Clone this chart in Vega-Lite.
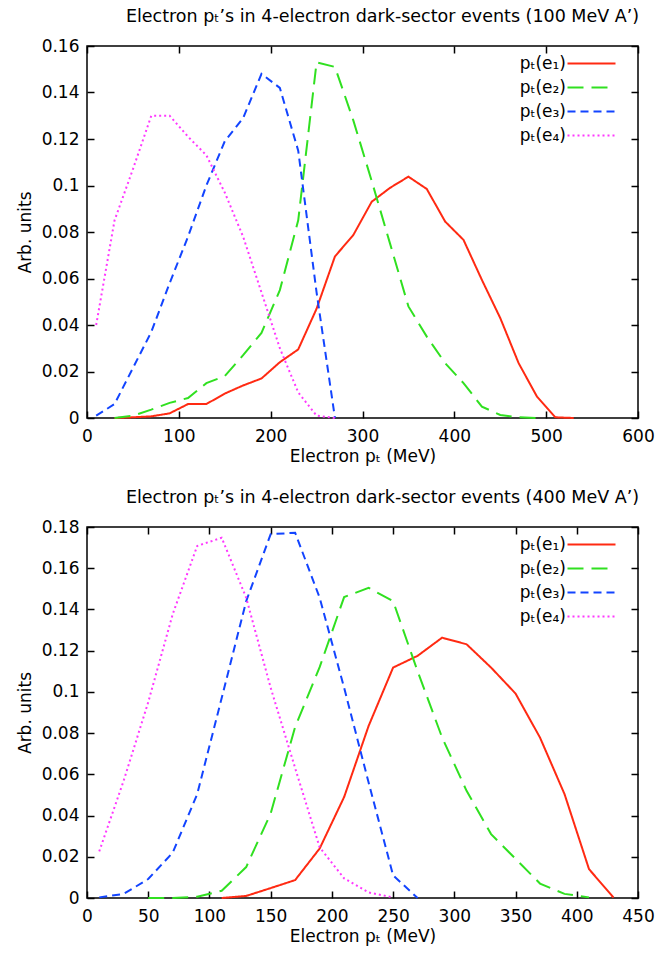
{
  "$schema": "https://vega.github.io/schema/vega-lite/v6.json",
  "background": "white",
  "padding": {"left": 15, "top": 6, "right": 10, "bottom": 5},
  "spacing": 22,
  "datasets": {
    "top": [
      {"s": "pₜ(e₁)", "x": 30, "y": 0}, {"s": "pₜ(e₁)", "x": 50, "y": 0.0003}, {"s": "pₜ(e₁)", "x": 70, "y": 0.0007}, {"s": "pₜ(e₁)", "x": 90, "y": 0.002}, {"s": "pₜ(e₁)", "x": 110, "y": 0.006}, {"s": "pₜ(e₁)", "x": 130, "y": 0.006}, {"s": "pₜ(e₁)", "x": 150, "y": 0.0105}, {"s": "pₜ(e₁)", "x": 170, "y": 0.014}, {"s": "pₜ(e₁)", "x": 190, "y": 0.017}, {"s": "pₜ(e₁)", "x": 210, "y": 0.024}, {"s": "pₜ(e₁)", "x": 230, "y": 0.0295}, {"s": "pₜ(e₁)", "x": 250, "y": 0.047}, {"s": "pₜ(e₁)", "x": 270, "y": 0.0695}, {"s": "pₜ(e₁)", "x": 290, "y": 0.0787}, {"s": "pₜ(e₁)", "x": 310, "y": 0.093}, {"s": "pₜ(e₁)", "x": 330, "y": 0.099}, {"s": "pₜ(e₁)", "x": 350, "y": 0.1038}, {"s": "pₜ(e₁)", "x": 370, "y": 0.0985}, {"s": "pₜ(e₁)", "x": 390, "y": 0.0845}, {"s": "pₜ(e₁)", "x": 410, "y": 0.0766}, {"s": "pₜ(e₁)", "x": 430, "y": 0.0594}, {"s": "pₜ(e₁)", "x": 450, "y": 0.043}, {"s": "pₜ(e₁)", "x": 470, "y": 0.0236}, {"s": "pₜ(e₁)", "x": 490, "y": 0.0092}, {"s": "pₜ(e₁)", "x": 510, "y": 0.0003}, {"s": "pₜ(e₁)", "x": 530, "y": 0},
      {"s": "pₜ(e₂)", "x": 30, "y": 0}, {"s": "pₜ(e₂)", "x": 50, "y": 0.001}, {"s": "pₜ(e₂)", "x": 70, "y": 0.0036}, {"s": "pₜ(e₂)", "x": 90, "y": 0.0065}, {"s": "pₜ(e₂)", "x": 110, "y": 0.0086}, {"s": "pₜ(e₂)", "x": 130, "y": 0.015}, {"s": "pₜ(e₂)", "x": 150, "y": 0.018}, {"s": "pₜ(e₂)", "x": 170, "y": 0.027}, {"s": "pₜ(e₂)", "x": 190, "y": 0.0366}, {"s": "pₜ(e₂)", "x": 210, "y": 0.055}, {"s": "pₜ(e₂)", "x": 230, "y": 0.085}, {"s": "pₜ(e₂)", "x": 250, "y": 0.153}, {"s": "pₜ(e₂)", "x": 270, "y": 0.151}, {"s": "pₜ(e₂)", "x": 290, "y": 0.128}, {"s": "pₜ(e₂)", "x": 310, "y": 0.102}, {"s": "pₜ(e₂)", "x": 330, "y": 0.075}, {"s": "pₜ(e₂)", "x": 350, "y": 0.048}, {"s": "pₜ(e₂)", "x": 370, "y": 0.035}, {"s": "pₜ(e₂)", "x": 390, "y": 0.0236}, {"s": "pₜ(e₂)", "x": 410, "y": 0.015}, {"s": "pₜ(e₂)", "x": 430, "y": 0.0049}, {"s": "pₜ(e₂)", "x": 450, "y": 0.0013}, {"s": "pₜ(e₂)", "x": 470, "y": 0.0003}, {"s": "pₜ(e₂)", "x": 490, "y": 0},
      {"s": "pₜ(e₃)", "x": 10, "y": 0.001}, {"s": "pₜ(e₃)", "x": 30, "y": 0.006}, {"s": "pₜ(e₃)", "x": 50, "y": 0.0215}, {"s": "pₜ(e₃)", "x": 70, "y": 0.037}, {"s": "pₜ(e₃)", "x": 90, "y": 0.058}, {"s": "pₜ(e₃)", "x": 110, "y": 0.078}, {"s": "pₜ(e₃)", "x": 130, "y": 0.1}, {"s": "pₜ(e₃)", "x": 150, "y": 0.119}, {"s": "pₜ(e₃)", "x": 170, "y": 0.129}, {"s": "pₜ(e₃)", "x": 190, "y": 0.148}, {"s": "pₜ(e₃)", "x": 210, "y": 0.142}, {"s": "pₜ(e₃)", "x": 230, "y": 0.115}, {"s": "pₜ(e₃)", "x": 250, "y": 0.054}, {"s": "pₜ(e₃)", "x": 270, "y": 0},
      {"s": "pₜ(e₄)", "x": 10, "y": 0.04}, {"s": "pₜ(e₄)", "x": 30, "y": 0.085}, {"s": "pₜ(e₄)", "x": 50, "y": 0.107}, {"s": "pₜ(e₄)", "x": 70, "y": 0.13}, {"s": "pₜ(e₄)", "x": 90, "y": 0.13}, {"s": "pₜ(e₄)", "x": 110, "y": 0.121}, {"s": "pₜ(e₄)", "x": 130, "y": 0.113}, {"s": "pₜ(e₄)", "x": 150, "y": 0.097}, {"s": "pₜ(e₄)", "x": 170, "y": 0.078}, {"s": "pₜ(e₄)", "x": 190, "y": 0.054}, {"s": "pₜ(e₄)", "x": 210, "y": 0.03}, {"s": "pₜ(e₄)", "x": 230, "y": 0.011}, {"s": "pₜ(e₄)", "x": 250, "y": 0.001}, {"s": "pₜ(e₄)", "x": 270, "y": 0}
    ],
    "bottom": [
      {"s": "pₜ(e₁)", "x": 110, "y": 0}, {"s": "pₜ(e₁)", "x": 130, "y": 0.001}, {"s": "pₜ(e₁)", "x": 150, "y": 0.0048}, {"s": "pₜ(e₁)", "x": 170, "y": 0.0087}, {"s": "pₜ(e₁)", "x": 190, "y": 0.024}, {"s": "pₜ(e₁)", "x": 210, "y": 0.049}, {"s": "pₜ(e₁)", "x": 230, "y": 0.0835}, {"s": "pₜ(e₁)", "x": 250, "y": 0.1118}, {"s": "pₜ(e₁)", "x": 270, "y": 0.1175}, {"s": "pₜ(e₁)", "x": 290, "y": 0.1263}, {"s": "pₜ(e₁)", "x": 310, "y": 0.1231}, {"s": "pₜ(e₁)", "x": 330, "y": 0.1118}, {"s": "pₜ(e₁)", "x": 350, "y": 0.0992}, {"s": "pₜ(e₁)", "x": 370, "y": 0.0778}, {"s": "pₜ(e₁)", "x": 390, "y": 0.0504}, {"s": "pₜ(e₁)", "x": 410, "y": 0.014}, {"s": "pₜ(e₁)", "x": 430, "y": 0.0002},
      {"s": "pₜ(e₂)", "x": 50, "y": 0}, {"s": "pₜ(e₂)", "x": 70, "y": 0}, {"s": "pₜ(e₂)", "x": 90, "y": 0.0006}, {"s": "pₜ(e₂)", "x": 110, "y": 0.0035}, {"s": "pₜ(e₂)", "x": 130, "y": 0.015}, {"s": "pₜ(e₂)", "x": 150, "y": 0.041}, {"s": "pₜ(e₂)", "x": 170, "y": 0.083}, {"s": "pₜ(e₂)", "x": 190, "y": 0.112}, {"s": "pₜ(e₂)", "x": 210, "y": 0.146}, {"s": "pₜ(e₂)", "x": 230, "y": 0.1505}, {"s": "pₜ(e₂)", "x": 250, "y": 0.144}, {"s": "pₜ(e₂)", "x": 270, "y": 0.11}, {"s": "pₜ(e₂)", "x": 290, "y": 0.0779}, {"s": "pₜ(e₂)", "x": 310, "y": 0.052}, {"s": "pₜ(e₂)", "x": 330, "y": 0.031}, {"s": "pₜ(e₂)", "x": 350, "y": 0.019}, {"s": "pₜ(e₂)", "x": 370, "y": 0.007}, {"s": "pₜ(e₂)", "x": 390, "y": 0.002}, {"s": "pₜ(e₂)", "x": 410, "y": 0.0003},
      {"s": "pₜ(e₃)", "x": 10, "y": 0.0003}, {"s": "pₜ(e₃)", "x": 30, "y": 0.002}, {"s": "pₜ(e₃)", "x": 50, "y": 0.0092}, {"s": "pₜ(e₃)", "x": 70, "y": 0.022}, {"s": "pₜ(e₃)", "x": 90, "y": 0.0504}, {"s": "pₜ(e₃)", "x": 110, "y": 0.097}, {"s": "pₜ(e₃)", "x": 130, "y": 0.144}, {"s": "pₜ(e₃)", "x": 150, "y": 0.1765}, {"s": "pₜ(e₃)", "x": 170, "y": 0.1772}, {"s": "pₜ(e₃)", "x": 190, "y": 0.1457}, {"s": "pₜ(e₃)", "x": 210, "y": 0.102}, {"s": "pₜ(e₃)", "x": 230, "y": 0.056}, {"s": "pₜ(e₃)", "x": 250, "y": 0.011}, {"s": "pₜ(e₃)", "x": 270, "y": 0},
      {"s": "pₜ(e₄)", "x": 10, "y": 0.0226}, {"s": "pₜ(e₄)", "x": 30, "y": 0.057}, {"s": "pₜ(e₄)", "x": 50, "y": 0.095}, {"s": "pₜ(e₄)", "x": 70, "y": 0.1377}, {"s": "pₜ(e₄)", "x": 90, "y": 0.1708}, {"s": "pₜ(e₄)", "x": 110, "y": 0.1748}, {"s": "pₜ(e₄)", "x": 130, "y": 0.1457}, {"s": "pₜ(e₄)", "x": 150, "y": 0.102}, {"s": "pₜ(e₄)", "x": 170, "y": 0.063}, {"s": "pₜ(e₄)", "x": 190, "y": 0.0246}, {"s": "pₜ(e₄)", "x": 210, "y": 0.0095}, {"s": "pₜ(e₄)", "x": 230, "y": 0.0027}, {"s": "pₜ(e₄)", "x": 250, "y": 0.0003}
    ]
  },
  "vconcat": [
    {
      "title": {"text": "Electron pₜ’s in 4-electron dark-sector events (100 MeV A’)", "dx": 20},
      "width": 551,
      "height": 372,
      "data": {"name": "top"},
      "layer": [
        {
          "mark": {"type": "line", "strokeWidth": 2},
          "encoding": {
            "x": {"field": "x", "type": "quantitative", "scale": {"domain": [0, 600], "nice": false}, "axis": {"values": [0, 100, 200, 300, 400, 500, 600], "title": "Electron pₜ (MeV)"}},
            "y": {"field": "y", "type": "quantitative", "scale": {"domain": [0, 0.16], "nice": false}, "axis": {"values": [0, 0.02, 0.04, 0.06, 0.08, 0.1, 0.12, 0.14, 0.16], "title": "Arb. units", "format": "~g"}},
            "color": {"field": "s", "type": "nominal", "scale": {"domain": ["pₜ(e₁)", "pₜ(e₂)", "pₜ(e₃)", "pₜ(e₄)"], "range": ["#ff2a12", "#30e020", "#1244ff", "#ff38ff"]}},
            "strokeDash": {"field": "s", "type": "nominal", "scale": {"domain": ["pₜ(e₁)", "pₜ(e₂)", "pₜ(e₃)", "pₜ(e₄)"], "range": [[1, 0], [16, 8], [8, 5], [2, 3]]}}
          }
        },
        {
          "mark": {"type": "line", "opacity": 0},
          "encoding": {
            "x": {"field": "x", "type": "quantitative", "axis": {"orient": "top", "labels": false, "title": null, "values": [0, 100, 200, 300, 400, 500, 600]}},
            "y": {"field": "y", "type": "quantitative", "axis": {"orient": "right", "labels": false, "title": null, "values": [0, 0.02, 0.04, 0.06, 0.08, 0.1, 0.12, 0.14, 0.16]}},
            "detail": {"field": "s"}
          }
        }
      ],
      "resolve": {"axis": {"x": "independent", "y": "independent"}}
    },
    {
      "title": {"text": "Electron pₜ’s in 4-electron dark-sector events (400 MeV A’)", "dx": 20},
      "width": 551,
      "height": 371,
      "data": {"name": "bottom"},
      "layer": [
        {
          "mark": {"type": "line", "strokeWidth": 2},
          "encoding": {
            "x": {"field": "x", "type": "quantitative", "scale": {"domain": [0, 450], "nice": false}, "axis": {"values": [0, 50, 100, 150, 200, 250, 300, 350, 400, 450], "title": "Electron pₜ (MeV)"}},
            "y": {"field": "y", "type": "quantitative", "scale": {"domain": [0, 0.18], "nice": false}, "axis": {"values": [0, 0.02, 0.04, 0.06, 0.08, 0.1, 0.12, 0.14, 0.16, 0.18], "title": "Arb. units", "format": "~g"}},
            "color": {"field": "s", "type": "nominal", "scale": {"domain": ["pₜ(e₁)", "pₜ(e₂)", "pₜ(e₃)", "pₜ(e₄)"], "range": ["#ff2a12", "#30e020", "#1244ff", "#ff38ff"]}},
            "strokeDash": {"field": "s", "type": "nominal", "scale": {"domain": ["pₜ(e₁)", "pₜ(e₂)", "pₜ(e₃)", "pₜ(e₄)"], "range": [[1, 0], [16, 8], [8, 5], [2, 3]]}}
          }
        },
        {
          "mark": {"type": "line", "opacity": 0},
          "encoding": {
            "x": {"field": "x", "type": "quantitative", "axis": {"orient": "top", "labels": false, "title": null, "values": [0, 50, 100, 150, 200, 250, 300, 350, 400, 450]}},
            "y": {"field": "y", "type": "quantitative", "axis": {"orient": "right", "labels": false, "title": null, "values": [0, 0.02, 0.04, 0.06, 0.08, 0.1, 0.12, 0.14, 0.16, 0.18]}},
            "detail": {"field": "s"}
          }
        }
      ],
      "resolve": {"axis": {"x": "independent", "y": "independent"}}
    }
  ],
  "resolve": {"scale": {"color": "independent", "strokeDash": "independent"}, "legend": {"color": "independent", "strokeDash": "independent"}},
  "config": {
    "font": "DejaVu Sans",
    "view": {"stroke": "black", "strokeWidth": 1.5},
    "title": {"fontSize": 17.5, "fontWeight": "normal", "color": "black", "offset": 12},
    "axis": {"domain": false, "grid": false, "tickColor": "black", "tickSize": -7, "tickWidth": 1.5, "labelFontSize": 17, "labelColor": "black", "labelPadding": 15, "titleFontSize": 17, "titleFontWeight": "normal", "titleColor": "black", "labelFlush": false},
    "axisX": {"titlePadding": 4, "labelPadding": 17},
    "axisY": {"titlePadding": 7},
    "legend": {"orient": "none", "legendX": 496, "legendY": 9, "title": null, "labelFontSize": 17, "labelColor": "black", "symbolType": "M-4,0L4,0", "symbolSize": 144, "symbolStrokeWidth": 2, "symbolFillColor": "transparent", "labelAlign": "right", "labelOffset": -34, "symbolOffset": 0, "rowPadding": 6, "padding": 0}
  }
}
